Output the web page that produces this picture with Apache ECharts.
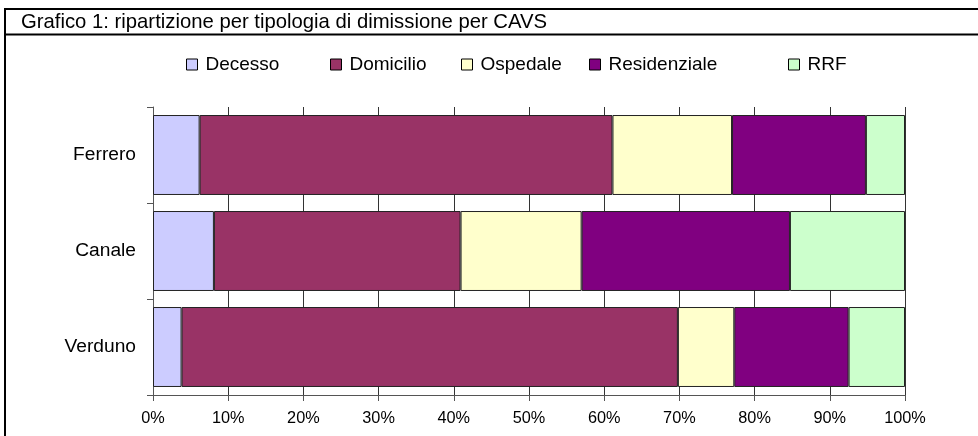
<!DOCTYPE html>
<html>
<head>
<meta charset="utf-8">
<script src="https://cdn.jsdelivr.net/npm/echarts@6/dist/echarts.min.js"></script>
<style>
  html, body { margin: 0; padding: 0; background: #fff; }
  #chart { width: 978px; height: 436px; }
</style>
</head>
<body>
<div id="chart"></div>
<script>
// Share of discharges by type, per CAVS (percent of each structure's total)
const categories = ['Ferrero', 'Canale', 'Verduno'];
const seriesNames = ['Decesso', 'Domicilio', 'Ospedale', 'Residenziale', 'RRF'];
const decesso      = [6.2, 8.1, 3.8];
const domicilio    = [54.9, 32.8, 66.0];
const ospedale     = [15.9, 16.1, 7.5];
const residenziale = [17.8, 27.7, 15.2];
const rrf          = [5.2, 15.3, 7.5];
const tickLabels = ['0%', '10%', '20%', '30%', '40%', '50%', '60%', '70%', '80%', '90%', '100%'];

const seriesValues = [decesso, domicilio, ospedale, residenziale, rrf];
const colors = ['#ccccff', '#993366', '#ffffcc', '#800080', '#ccffcc'];
const legendLeft = [186, 330, 461, 589, 788];

const FONT = 'Liberation Sans, Arial, sans-serif';

const chart = echarts.init(document.getElementById('chart'), null, { renderer: 'canvas' });

chart.setOption({
  animation: false,
  backgroundColor: '#fff',
  title: {
    text: 'Grafico 1: ripartizione per tipologia di dimissione per CAVS',
    left: 21,
    top: 12,
    padding: 0,
    textStyle: { fontFamily: FONT, fontSize: 20.3, fontWeight: 'normal', color: '#000' }
  },
  legend: seriesNames.map((name, i) => ({
    data: [name],
    left: legendLeft[i],
    top: 55,
    itemWidth: 11,
    itemHeight: 11,
    itemGap: 0,
    padding: 0,
    icon: 'rect',
    selectedMode: false,
    textStyle: { fontFamily: FONT, fontSize: 19, color: '#000', padding: [0, 0, 0, 3] },
    itemStyle: { borderColor: '#000', borderWidth: 1 }
  })),
  grid: { left: 153, right: 73, top: 107, bottom: 41, containLabel: false },
  xAxis: {
    type: 'value',
    min: 0,
    max: 100,
    interval: 10,
    axisLine: { show: true, lineStyle: { color: '#555', width: 1 } },
    axisTick: { show: true, length: 6, lineStyle: { color: '#555' } },
    splitLine: { show: true, lineStyle: { color: '#333', width: 1 } },
    axisLabel: {
      margin: 16,
      fontFamily: FONT,
      fontSize: 16.3,
      color: '#000',
      formatter: (v) => tickLabels[Math.round(v / 10)]
    }
  },
  yAxis: {
    type: 'category',
    data: categories,
    inverse: true,
    axisLine: { show: true, lineStyle: { color: '#555', width: 1 } },
    axisTick: { show: true, length: 6, lineStyle: { color: '#555' } },
    axisLabel: { margin: 17, fontFamily: FONT, fontSize: 19.2, color: '#000' }
  },
  series: seriesNames.map((name, i) => ({
    name: name,
    type: 'bar',
    stack: 'total',
    data: seriesValues[i],
    barCategoryGap: '16.7%',
    itemStyle: { color: colors[i], borderColor: '#222', borderWidth: 1 }
  })),
  graphic: [
    { type: 'rect', shape: { x: 5, y: 9, width: 990, height: 440 },
      style: { fill: 'none', stroke: '#000', lineWidth: 2 }, silent: true, z: 100 },
    { type: 'line', shape: { x1: 5, y1: 34.5, x2: 978, y2: 34.5 },
      style: { stroke: '#000', lineWidth: 2 }, silent: true, z: 100 }
  ]
});
</script>
</body>
</html>
